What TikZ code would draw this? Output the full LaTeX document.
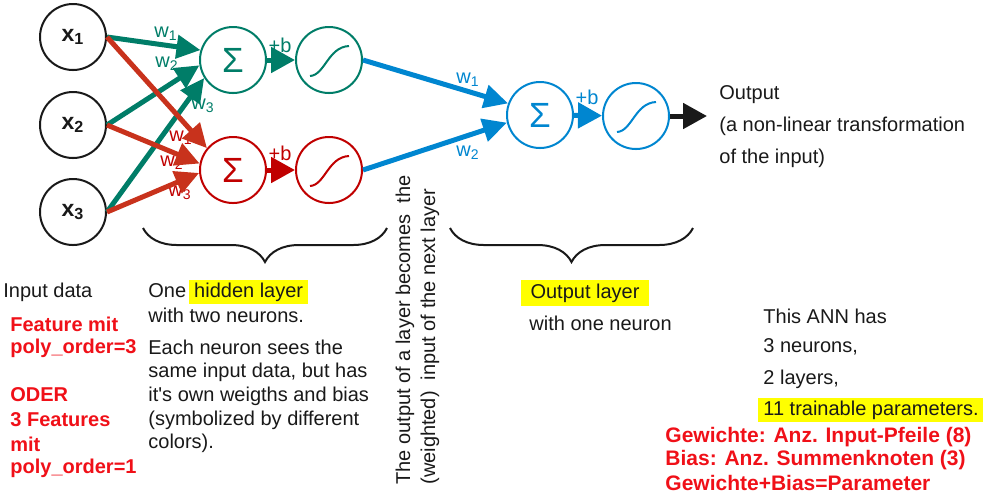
\documentclass[tikz,border=0pt]{standalone}
\usepackage{fontspec}
\setmainfont{Liberation Sans}
\usetikzlibrary{arrows.meta,decorations.pathreplacing}
\definecolor{inkblack}{RGB}{25,25,25}
\definecolor{hiddengreen}{RGB}{0,125,104}
\definecolor{hiddenred}{RGB}{192,0,0}
\definecolor{arrowred}{RGB}{200,50,28}
\definecolor{outblue}{RGB}{0,134,208}
\definecolor{notered}{RGB}{240,16,24}
\definecolor{markyellow}{RGB}{255,255,0}
\newcommand{\marked}[1]{{\setlength{\fboxsep}{1.3pt}\colorbox{markyellow}{\hspace{1.2pt}#1\hspace{1.2pt}}}}

\begin{document}
\begin{tikzpicture}[x=0.5pt, y=-0.5pt,
    neuron/.style={circle, draw, line width=1pt, minimum size=33pt, inner sep=0pt},
    sumnode/.style={neuron, font=\fontsize{17.5}{20}\selectfont},
    wire/.style={line width=2.5pt, -{Triangle[length=12pt,width=11.5pt]}},
    shortwire/.style={line width=2.5pt, -{Triangle[length=12pt,width=12.5pt]}},
    wlabel/.style={font=\fontsize{10}{12}\selectfont, inner sep=0pt},
    bodytext/.style={font=\fontsize{10}{12}\selectfont, text=inkblack, anchor=west, inner sep=0pt},
    redtext/.style={font=\fontsize{10}{12}\selectfont\bfseries, text=notered, anchor=west, inner sep=0pt}]

    \useasboundingbox (0,0) rectangle (983,495);

    % 1. Input neurons
    \foreach \i/\yy in {1/37, 2/125, 3/212} {
        \node[neuron, draw=inkblack, text=inkblack, font=\fontsize{11.5}{12}\selectfont\bfseries] (x\i) at (73,\yy) {x\textsubscript{\i}};
    }

    % 2. Hidden layer (green + red) and output neuron (blue)
    \node[sumnode, draw=hiddengreen, text=hiddengreen] (gsum) at (233,60) {Σ};
    \node[neuron, draw=hiddengreen] (gact) at (329,60) {};
    \node[sumnode, draw=hiddenred, text=hiddenred] (rsum) at (233,170) {Σ};
    \node[neuron, draw=hiddenred] (ract) at (329,170) {};
    \node[sumnode, draw=outblue, text=outblue] (osum) at (540,115) {Σ};
    \node[neuron, draw=outblue] (oact) at (636,116) {};
    \coordinate (outtip) at (707,116);

    % sigmoid curves
    \foreach \n/\col in {gact/hiddengreen, ract/hiddenred, oact/outblue} {
        \draw[\col, line width=1pt, shift={(\n.center)}] (-19,16) .. controls (-4,15) and (-1,-13) .. (20,-14);
    }

    % 3. Weight and bias labels
    \foreach \nm/\xx/\yy/\k in {gwa/166/34/1, gwb/167/64/2, gwc/203/106/3} {
        \node[wlabel, text=hiddengreen] (\nm) at (\xx,\yy) {w\textsubscript{\k}};
    }
    \foreach \nm/\xx/\yy/\k in {rwa/181/138/1, rwb/172/163/2, rwc/180/193/3} {
        \node[wlabel, text=hiddenred] (\nm) at (\xx,\yy) {w\textsubscript{\k}};
    }
    \node[wlabel, text=outblue] (owa) at (468,80) {w\textsubscript{1}};
    \node[wlabel, text=outblue] (owb) at (468,153) {w\textsubscript{2}};
    \node[wlabel, text=hiddengreen] (gbias) at (280,45) {+b};
    \node[wlabel, text=hiddenred] (rbias) at (280,153) {+b};
    \node[wlabel, text=outblue] (obias) at (587,97) {+b};

    % 4. Weighted connections
    \draw[wire, hiddengreen] (x1.east) -- (gsum.163);
    \draw[wire, hiddengreen] (x2.east) -- (gsum.189);
    \draw[wire, hiddengreen] (x3.east) -- (gsum.212);
    \draw[wire, arrowred] (x1.east) -- (rsum.140);
    \draw[wire, arrowred] (x2.east) -- (rsum.169);
    \draw[wire, arrowred] (x3.east) -- (rsum.185);
    \draw[shortwire, hiddengreen] (gsum) -- (gact);
    \draw[shortwire, hiddenred] (rsum) -- (ract);
    \draw[wire, outblue] (gact.east) -- (osum.160);
    \draw[wire, outblue] (ract.east) -- (osum.193);
    \draw[shortwire, outblue] (osum) -- (oact);
    \draw[shortwire, inkblack] (oact) -- (outtip);

    % 5. Braces
    \draw[inkblack, line width=1pt, decorate, decoration={brace, amplitude=17pt}] (387,228) -- (143,228);
    \draw[inkblack, line width=1pt, decorate, decoration={brace, amplitude=17pt}] (693,228) -- (450,228);

    % 6. Text blocks
    \foreach \yy/\txt [count=\k] in {95/Output, 126/(a non-linear transformation, 158/of the input)} {
        \node[bodytext] (out\k) at (719,\yy) {\txt};
    }
    \node[bodytext] (inputdata) at (3,292) {Input data};
    \foreach \yy/\txt [count=\k] in {324/Feature mit, 348/poly\_order=3, 395/ODER, 420/3 Features, 444/mit, 468/poly\_order=1} {
        \node[redtext] (feat\k) at (10,\yy) {\txt};
    }
    \node[bodytext] (hidden1) at (148,292) {One\hspace{1.5pt}\marked{hidden layer}};
    \node[bodytext] (hidden2) at (148,315) {with two neurons.};
    \foreach \yy/\txt [count=\k] in {347/Each neuron sees the, 372/{same input data, but has}, 396/it\textquotesingle s own weigths and bias, 420/(symbolized by different, 443/colors).} {
        \node[bodytext] (each\k) at (148,\yy) {\txt};
    }
    \node[bodytext, rotate=90] (turn1) at (405,485) {The output of a layer becomes\ \ the};
    \node[bodytext, rotate=90] (turn2) at (430,485) {(weighted)\ \ input of the next layer};
    \node[bodytext, anchor=center, fill=markyellow, inner xsep=5pt, inner ysep=2pt] (outlayer) at (585,293) {Output layer};
    \node[bodytext] (outlayer2) at (529,323) {with one neuron};
    \foreach \yy/\txt [count=\k] in {316/This ANN has, 347/{3 neurons,}, 379/{2 layers,}} {
        \node[bodytext] (ann\k) at (763,\yy) {\txt};
    }
    \node[bodytext] (ann4) at (758,410) {\marked{11 trainable parameters.}};
    \foreach \yy/\txt [count=\k] in {437/Gewichte: Anz. Input-Pfeile (8), 460/Bias: Anz. Summenknoten (3), 483/Gewichte+Bias=Parameter} {
        \node[redtext, font=\fontsize{10.5}{12}\selectfont\bfseries] (rule\k) at (665,\yy) {\txt};
    }

\end{tikzpicture}
\end{document}
